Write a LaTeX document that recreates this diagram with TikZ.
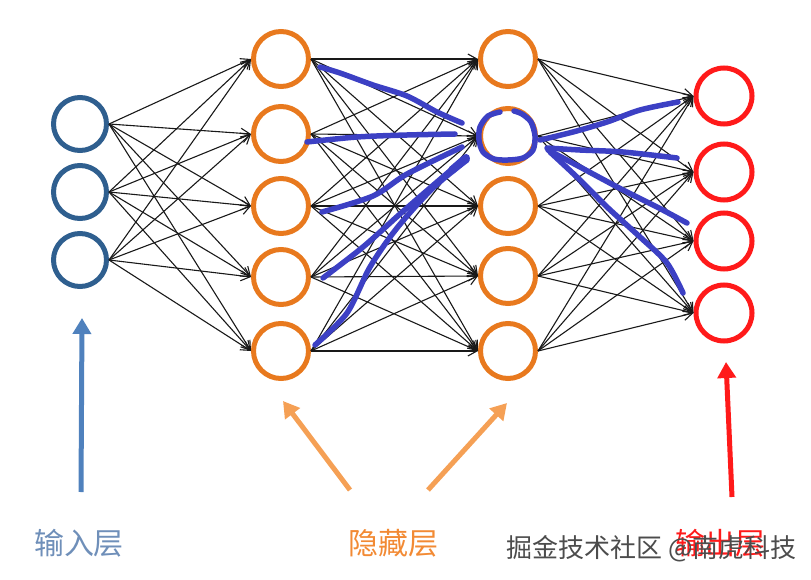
\documentclass[tikz,border=0pt]{standalone}
\usepackage{fontspec}
\newfontfamily\cjk{Noto Sans CJK SC}
\usetikzlibrary{arrows.meta}
\definecolor{inblue}{HTML}{2F5F8F}
\definecolor{inlabel}{HTML}{6F8FB9}
\definecolor{inarrow}{HTML}{4F81BD}
\definecolor{hidor}{HTML}{E8791E}
\definecolor{hidlabel}{HTML}{F28A34}
\definecolor{hidarrow}{HTML}{F5A055}
\definecolor{outred}{HTML}{FF1A1A}
\definecolor{pen}{HTML}{3C40C4}
\tikzset{
  neuron/.style={circle, line width=5pt, minimum size=53pt, inner sep=0pt},
  inneuron/.style={neuron, draw=inblue},
  hidneuron/.style={neuron, draw=hidor, minimum size=55pt},
  outneuron/.style={neuron, draw=outred, minimum size=56pt},
  link/.style={line width=1.1pt, black!90, -{Straight Barb[length=9pt,width=10pt]}},
  bigarrow/.style={line width=5pt, -{Triangle[length=16pt,width=18pt]}},
  penstroke/.style={line width=5.5pt, pen, line cap=round, line join=round},
  lbl/.style={font=\cjk\fontsize{30}{31}\selectfont, inner sep=0pt}
}
\begin{document}
\begin{tikzpicture}[x=1pt,y=-1pt]
\useasboundingbox (0,0) rectangle (811,580);
% input layer
\node[inneuron] (i1) at (80,124) {};
\node[inneuron] (i2) at (80,192) {};
\node[inneuron] (i3) at (80,260) {};
% hidden layer 1
\node[hidneuron] (a1) at (281,59) {};
\node[hidneuron] (a2) at (281,134) {};
\node[hidneuron] (a3) at (281,206) {};
\node[hidneuron] (a4) at (281,277) {};
\node[hidneuron] (a5) at (281,351) {};
% hidden layer 2
\node[hidneuron] (b1) at (508,59) {};
\node[hidneuron] (b2) at (508,136) {};
\node[hidneuron] (b3) at (508,206) {};
\node[hidneuron] (b4) at (508,276) {};
\node[hidneuron] (b5) at (508,351) {};
% output layer
\node[outneuron] (o1) at (724,96) {};
\node[outneuron] (o2) at (724,172) {};
\node[outneuron] (o3) at (724,241) {};
\node[outneuron] (o4) at (724,313) {};
% connections
\foreach \s in {1,2,3}{\foreach \t in {1,...,5}{\draw[link] (i\s.east) -- (a\t.west);}}
\foreach \s in {1,...,5}{\foreach \t in {1,...,5}{\draw[link] (a\s.east) -- (b\t.west);}}
\foreach \s in {1,...,5}{\foreach \t in {1,...,4}{\draw[link] (b\s.east) -- (o\t.west);}}
% hand-drawn strokes
\draw[penstroke] plot[smooth] coordinates {(320,67) (340,73) (373,85) (407,96) (437,112) (462,123)};
\draw[penstroke] plot[smooth] coordinates {(307,142) (357,137) (407,135) (455,134)};
\draw[penstroke] plot[smooth] coordinates {(322,212) (373,196) (407,174) (462,147)};
\draw[penstroke] plot[smooth] coordinates {(323,278) (363,247) (400,214) (430,188) (465,158)};
\draw[penstroke] plot[smooth] coordinates {(315,345) (347,313) (370,267) (397,228) (433,188) (467,160)};
\draw[penstroke, line width=8pt] (452,170) -- (466,158);
\draw[penstroke] plot[smooth] coordinates {(500,112) (488,116) (480,127) (479,140) (483,152) (494,159) (508,160) (523,158) (533,150) (535,136) (531,122) (522,114) (514,111)};
\draw[penstroke] plot[smooth] coordinates {(540,140) (573,132) (607,122) (640,110) (678,102)};
\draw[penstroke] plot[smooth] coordinates {(547,148) (580,150) (623,152) (677,158)};
\draw[penstroke] plot[smooth] coordinates {(548,150) (580,167) (623,190) (657,207) (687,223)};
\draw[penstroke] plot[smooth] coordinates {(550,152) (580,180) (607,207) (640,237) (667,263) (683,293)};
% label arrows
\coordinate (ib) at (81,492);
\coordinate (it) at (82,318);
\draw[bigarrow, inarrow] (ib) -- (it);
\coordinate (hb1) at (350,490);
\coordinate (ht1) at (283,401);
\draw[bigarrow, hidarrow] (hb1) -- (ht1);
\coordinate (hb2) at (428,490);
\coordinate (ht2) at (507,403);
\draw[bigarrow, hidarrow] (hb2) -- (ht2);
\coordinate (ob) at (732,497);
\coordinate (ot) at (726,362);
\draw[bigarrow, outred] (ob) -- (ot);
% labels
\node[lbl, text=inlabel] (lin) at (79,543) {输入层};
\node[lbl, text=hidlabel] (lhid) at (393,543) {隐藏层};
\node[lbl, text=outred] (lout) at (720,543) {输出层};
\node[font=\cjk\fontsize{26}{28}\selectfont, text=black!70, inner sep=0pt, anchor=west] (wm) at (506,549) {掘金技术社区 @南虎科技};
\end{tikzpicture}
\end{document}
